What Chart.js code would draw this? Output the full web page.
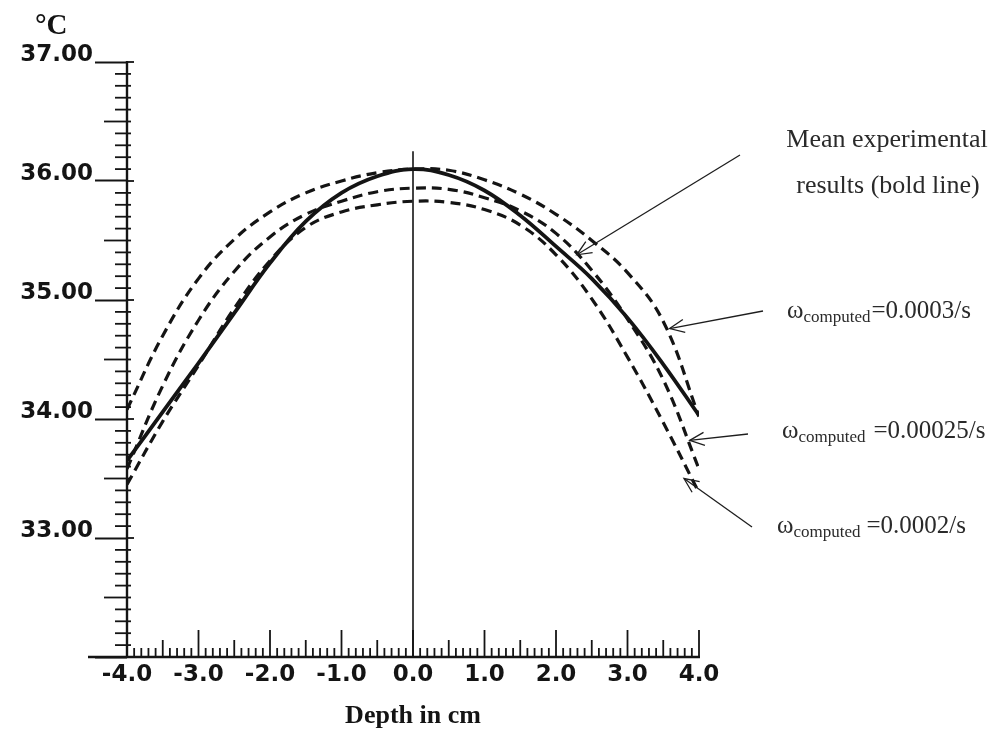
<!DOCTYPE html>
<html><head><meta charset="utf-8">
<script src="https://cdn.jsdelivr.net/npm/chart.js@4.4.0/dist/chart.umd.min.js"></script>
<style>html,body{margin:0;padding:0;background:#fff;}#wrap{width:1005px;height:733px;position:relative;}</style>
</head><body><div id="wrap"><canvas id="c" width="1005" height="733"></canvas></div>
<script>
// ---- data ----
const depthCm = [-4,-3.5,-3,-2.5,-2,-1.5,-1,-0.5,0,0.5,1,1.5,2,2.5,3,3.5,4];
const meanExperimental = [33.65,34.06,34.47,34.89,35.31,35.66,35.90,36.04,36.10,36.05,35.92,35.71,35.45,35.18,34.85,34.46,34.03];
const omega0003  = [34.08,34.70,35.18,35.51,35.74,35.90,36.00,36.07,36.10,36.09,36.01,35.89,35.72,35.50,35.23,34.82,34.02];
const omega00025 = [33.58,34.28,34.83,35.24,35.53,35.72,35.83,35.91,35.94,35.93,35.86,35.75,35.56,35.25,34.84,34.33,33.58];
const omega0002  = [33.45,33.98,34.45,34.93,35.33,35.61,35.74,35.80,35.83,35.82,35.76,35.63,35.38,35.01,34.52,33.97,33.38];
const xTickValues = [-4,-3,-2,-1,0,1,2,3,4];
const yTickValues = [32,33,34,35,36,37];
const centreLineDepth = [0,0];
const centreLineTemp = [32,36.25];
const arrowTipDepth = [2.29,3.59,3.87,3.79];
const arrowTipTemp  = [35.38,34.76,33.82,33.50];

const pts = (xs, ys) => xs.map((x,i)=>({x, y: ys[i]}));
const INK = '#141414';

const axisDecor = {
  id: 'axisDecor',
  afterDraw(chart){
    const {ctx, scales:{x, y}} = chart;
    const x0 = x.getPixelForValue(-4), x1 = x.getPixelForValue(4);
    const yb = y.getPixelForValue(32), yt = y.getPixelForValue(37);
    ctx.save();
    ctx.strokeStyle = INK; ctx.lineCap = 'butt';
    ctx.lineWidth = 2.4;
    ctx.beginPath(); ctx.moveTo(x0, yt - 1); ctx.lineTo(x0, yb + 1); ctx.stroke();
    ctx.beginPath(); ctx.moveTo(x0 - 39, yb); ctx.lineTo(x1 + 1, yb); ctx.stroke();
    ctx.lineWidth = 1.8;
    for (let i = -39; i <= 40; i++) {
      const px = x.getPixelForValue(i / 10);
      const len = (i % 10 === 0) ? 27 : ((i % 5 === 0) ? 17 : 9);
      ctx.beginPath(); ctx.moveTo(px, yb); ctx.lineTo(px, yb - len); ctx.stroke();
    }
    for (let i = 321; i <= 370; i++) {
      const py = y.getPixelForValue(i / 10);
      let left = (i % 5 === 0) ? 23 : 12, right = 4;
      if (i % 10 === 0) { left = 0; right = 7; }
      ctx.beginPath(); ctx.moveTo(x0 - left, py); ctx.lineTo(x0 + right, py); ctx.stroke();
    }
    ctx.restore();
  }
};

const notes = {
  id: 'notes',
  afterDraw(chart){
    const {ctx, scales:{x, y}} = chart;
    ctx.save();
    ctx.fillStyle = '#2a2a2a';
    ctx.textBaseline = 'alphabetic';
    ctx.font = '26px "Liberation Serif", serif';
    ctx.textAlign = 'center';
    ctx.fillText('Mean experimental', 887, 147);
    ctx.fillText('results (bold line)', 888, 193);
    ctx.textAlign = 'left';
    const omegaLine = (sx, base, gap, value) => {
      ctx.font = '25px "Liberation Serif", serif';
      ctx.fillText('\u03C9', sx, base);
      let cx = sx + ctx.measureText('\u03C9').width;
      ctx.font = '17px "Liberation Serif", serif';
      ctx.fillText('computed', cx, base + 4);
      cx += ctx.measureText('computed').width + gap;
      ctx.font = '25px "Liberation Serif", serif';
      ctx.fillText(value, cx, base);
    };
    omegaLine(787, 318, 1, '=0.0003/s');
    omegaLine(782, 438, 8, '=0.00025/s');
    omegaLine(777, 533, 6, '=0.0002/s');

    const tails = [[740,155],[763,311],[748,434],[752,527]];
    ctx.strokeStyle = '#1e1e1e';
    ctx.lineWidth = 1.3;
    tails.forEach((t, i) => {
      const tx = x.getPixelForValue(arrowTipDepth[i]);
      const ty = y.getPixelForValue(arrowTipTemp[i]);
      ctx.beginPath(); ctx.moveTo(t[0], t[1]); ctx.lineTo(tx, ty); ctx.stroke();
      const a = Math.atan2(t[1] - ty, t[0] - tx);
      const L = 16, h = 0.42;
      ctx.beginPath();
      ctx.moveTo(tx + L * Math.cos(a + h), ty + L * Math.sin(a + h));
      ctx.lineTo(tx, ty);
      ctx.lineTo(tx + L * Math.cos(a - h), ty + L * Math.sin(a - h));
      ctx.stroke();
    });
    ctx.font = 'bold 29px "Liberation Serif", serif';
    ctx.fillStyle = INK;
    ctx.fillText('\u00B0C', 35, 34);
    ctx.restore();
  }
};

const whiteBg = {
  id: 'whiteBg',
  beforeDraw(chart){ const c = chart.ctx; c.save(); c.fillStyle = '#ffffff'; c.fillRect(0,0,chart.width,chart.height); c.restore(); }
};

const dashed = (label, ys) => ({
  label, data: pts(depthCm, ys), borderColor: INK, borderWidth: 3.2,
  borderDash: [10, 6], pointRadius: 0, fill: false, tension: 0.4
});

new Chart(document.getElementById('c'), {
  type: 'line',
  data: {
    datasets: [
      dashed('\u03C9 computed = 0.0003/s', omega0003),
      dashed('\u03C9 computed = 0.00025/s', omega00025),
      dashed('\u03C9 computed = 0.0002/s', omega0002),
      { label: 'Mean experimental results', data: pts(depthCm, meanExperimental), borderColor: INK,
        borderWidth: 3.8, pointRadius: 0, fill: false, tension: 0.4 },
      { label: 'centre', data: pts(centreLineDepth, centreLineTemp), borderColor: INK,
        borderWidth: 1.6, pointRadius: 0, fill: false }
    ]
  },
  options: {
    responsive: false, animation: false, devicePixelRatio: 1,
    layout: { padding: { top: 62, right: 306, left: 0, bottom: 0 } },
    plugins: { legend: { display: false }, tooltip: { enabled: false } },
    scales: {
      x: {
        type: 'linear', min: -4, max: 4,
        afterBuildTicks: s => { s.ticks = xTickValues.map(v => ({ value: v })); },
        afterFit: s => { s.height = 76; },
        grid: { display: false, drawTicks: false }, border: { display: false },
        ticks: { padding: 4, color: INK, font: { family: '"DejaVu Sans"', weight: 'bold', size: 23 },
                 callback: v => v.toFixed(1), maxRotation: 0, autoSkip: false },
        title: { display: true, text: 'Depth in cm', color: INK,
                 font: { family: '"Liberation Serif"', weight: 'bold', size: 26 }, padding: { top: 0, bottom: 1 } }
      },
      y: {
        type: 'linear', min: 32, max: 37,
        afterBuildTicks: s => { s.ticks = yTickValues.map(v => ({ value: v })); },
        afterFit: s => { s.width = 127; },
        border: { display: false },
        grid: { display: true, drawOnChartArea: false, drawTicks: true, tickLength: 32,
                tickWidth: 2, tickColor: INK, color: INK },
        ticks: { padding: 2, labelOffset: -7, color: INK,
                 font: { family: '"DejaVu Sans"', weight: 'bold', size: 23 },
                 callback: v => (v === 32 ? '' : v.toFixed(2)) }
      }
    }
  },
  plugins: [whiteBg, axisDecor, notes]
});
</script>
</body></html>
